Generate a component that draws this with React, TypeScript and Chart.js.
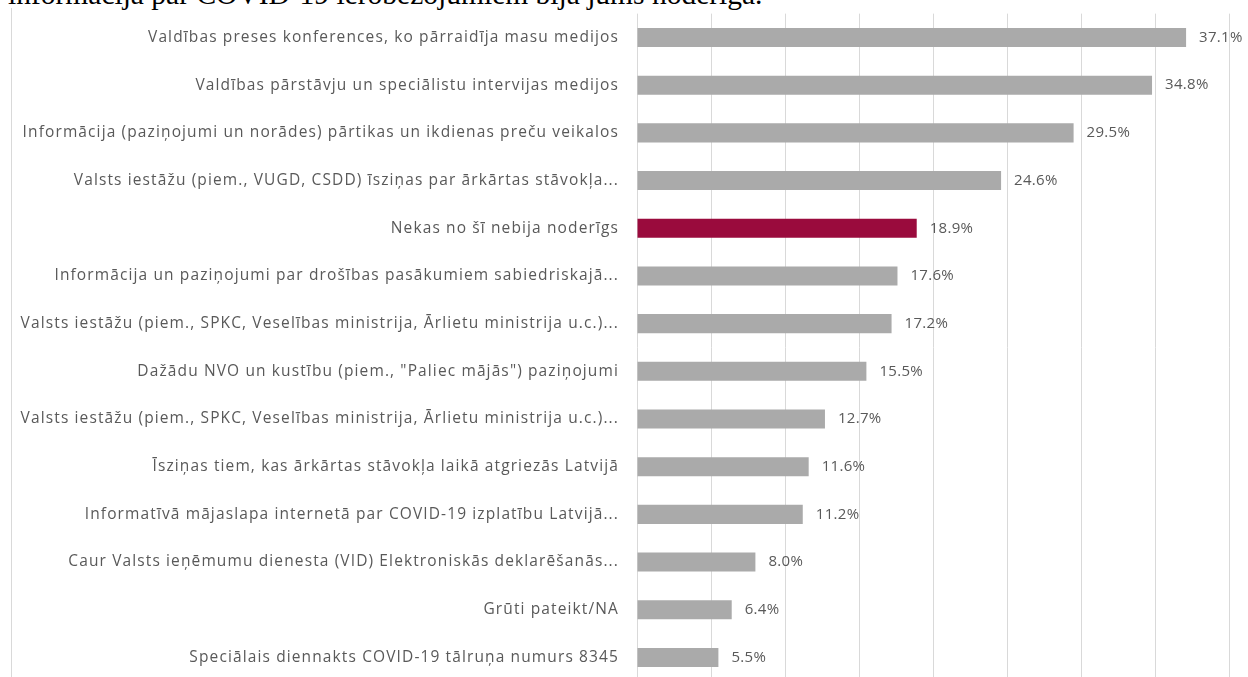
import React, { useEffect, useRef } from "react";
import { Chart, registerables } from "chart.js";

Chart.register(...registerables);

const titleText = "informācija par COVID-19 ierobežojumiem bija jums noderīga.";

const categories = [
  "Valdības preses konferences, ko pārraidīja masu medijos",
  "Valdības pārstāvju un speciālistu intervijas medijos",
  "Informācija (paziņojumi un norādes) pārtikas un ikdienas preču veikalos",
  "Valsts iestāžu (piem., VUGD, CSDD) īsziņas par ārkārtas stāvokļa...",
  "Nekas no šī nebija noderīgs",
  "Informācija un paziņojumi par drošības pasākumiem sabiedriskajā...",
  "Valsts iestāžu (piem., SPKC, Veselības ministrija, Ārlietu ministrija u.c.)...",
  "Dažādu NVO un kustību (piem., \"Paliec mājās\") paziņojumi",
  "Valsts iestāžu (piem., SPKC, Veselības ministrija, Ārlietu ministrija u.c.)...",
  "Īsziņas tiem, kas ārkārtas stāvokļa laikā atgriezās Latvijā",
  "Informatīvā mājaslapa internetā par COVID-19 izplatību Latvijā...",
  "Caur Valsts ieņēmumu dienesta (VID) Elektroniskās deklarēšanās...",
  "Grūti pateikt/NA",
  "Speciālais diennakts COVID-19 tālruņa numurs 8345",
];

const values = [37.1, 34.8, 29.5, 24.6, 18.9, 17.6, 17.2, 15.5, 12.7, 11.6, 11.2, 8.0, 6.4, 5.5];

const highlightIndex = 4;

const axisMin = 0;
const axisMax = 40;
const axisStep = 5;

const GRAY = "#aaaaaa";
const RED = "#9a0b3d";
const TEXT = "#595959";
const GRID = "#d9d9d9";
const FONT_FAMILY = "'Open Sans', sans-serif";
const LABEL_SIZE = 15.5;
const VALUE_SIZE = 15;

const spacing = {
  id: "labelSpacing",
  beforeLayout(chart: any) {
    chart.ctx.letterSpacing = "1.12px";
  },
  beforeDraw(chart: any) {
    chart.ctx.letterSpacing = "1.12px";
  },
};

const valueLabels = {
  id: "valueLabels",
  afterDatasetsDraw(chart: any) {
    const ctx = chart.ctx;
    const meta = chart.getDatasetMeta(0);
    ctx.save();
    ctx.letterSpacing = "0.3px";
    ctx.fillStyle = TEXT;
    ctx.font = `${VALUE_SIZE}px ${FONT_FAMILY}`;
    ctx.textAlign = "left";
    ctx.textBaseline = "middle";
    meta.data.forEach((bar: any, i: number) => {
      ctx.fillText(values[i].toFixed(1) + "%", bar.x + 13, bar.y);
    });
    ctx.restore();
  },
};

export default function App() {
  const ref = useRef<HTMLCanvasElement>(null);

  useEffect(() => {
    const canvas = ref.current!;
    const chart = new Chart(canvas, {
      type: "bar",
      data: {
        labels: categories,
        datasets: [
          {
            data: values,
            backgroundColor: values.map((_, i) => (i === highlightIndex ? RED : GRAY)),
            barPercentage: 0.4,
            categoryPercentage: 1,
          },
        ],
      },
      options: {
        indexAxis: "y",
        responsive: false,
        maintainAspectRatio: false,
        animation: false,
        layout: { padding: { top: 13.65, right: 19, bottom: 12.7, left: 0 } },
        plugins: { legend: { display: false }, tooltip: { enabled: false } },
        scales: {
          x: {
            min: axisMin,
            max: axisMax,
            ticks: { display: false, stepSize: axisStep },
            grid: { color: GRID, drawTicks: false },
            border: { display: false },
          },
          y: {
            ticks: {
              color: TEXT,
              font: { family: FONT_FAMILY, size: LABEL_SIZE },
              padding: 0,
              autoSkip: false,
            },
            grid: { display: false, drawTicks: true, tickLength: 18 },
            border: { display: false },
            afterFit: (s: any) => {
              s.width = 637;
            },
          },
        },
      },
      plugins: [spacing, valueLabels],
    } as any);
    return () => chart.destroy();
  }, []);

  return (
    <div
      style={{
        position: "fixed",
        left: 0,
        top: 0,
        width: 1248,
        height: 677,
        overflow: "hidden",
        background: "#ffffff",
      }}
    >
      <div
        style={{
          position: "absolute",
          left: 8,
          top: -20,
          fontFamily: "'Liberation Serif', serif",
          fontSize: 29.5,
          lineHeight: "29px",
          whiteSpace: "nowrap",
          color: "#000",
        }}
      >
        {titleText}
      </div>
      <div
        style={{
          position: "absolute",
          left: 11,
          top: 8,
          bottom: 0,
          width: 1,
          background: GRID,
        }}
      />
      <canvas
        ref={ref}
        width={1248}
        height={694}
        style={{ position: "absolute", left: 0, top: 0, display: "block" }}
      />
    </div>
  );
}
